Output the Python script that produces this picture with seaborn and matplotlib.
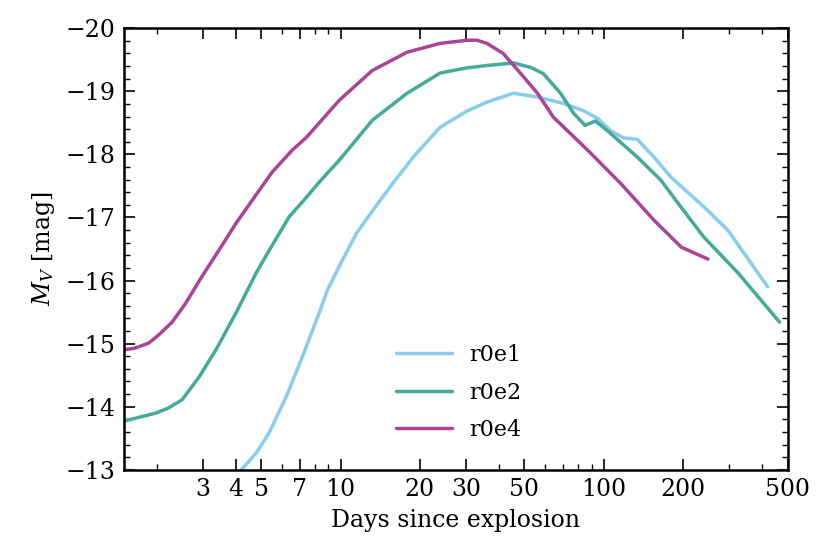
import matplotlib
matplotlib.use('Agg')
import matplotlib.pyplot as plt
import matplotlib.ticker as ticker
import numpy as np
import pandas as pd
import seaborn as sns

# light curves (days, M_V)
days_r0e1 = [3.8, 4.12, 4.37, 4.79, 5.36, 6.22, 7.16, 8.3, 8.92, 9.9, 11.5,
             13.2, 15.4, 18.9, 23.9, 30.0, 36.1, 45.4, 56, 70, 83, 95, 106,
             119, 134, 155, 180, 240, 296, 420]
mag_r0e1 = [-12.7, -12.97, -13.08, -13.27, -13.59, -14.16, -14.79, -15.49,
            -15.85, -16.23, -16.75, -17.1, -17.48, -17.96, -18.43, -18.68,
            -18.83, -18.97, -18.91, -18.81, -18.70, -18.57, -18.38, -18.26,
            -18.24, -17.96, -17.64, -17.17, -16.8, -15.9]

days_r0e2 = [1.5, 1.99, 2.22, 2.5, 2.9, 3.36, 4.01, 4.78, 5.36, 6.38, 7.42, 8.3,
             9.9, 13.2, 17.9, 23.9, 30.0, 36.1, 45.4, 52.7, 59, 68.5, 76.9, 85,
             93, 103, 134, 165, 197, 240, 324, 466]
mag_r0e2 = [-13.77, -13.90, -13.98, -14.11, -14.47, -14.90, -15.49, -16.12,
            -16.48, -17.01, -17.32, -17.56, -17.91, -18.54, -18.97, -19.29,
            -19.37, -19.41, -19.45, -19.38, -19.28, -18.97, -18.65, -18.46,
            -18.53, -18.38, -17.96, -17.59, -17.16, -16.69, -16.12, -15.34]

days_r0e4 = [1.5, 1.66, 1.87, 2.04, 2.29, 2.58, 2.97, 3.45, 4.01, 4.91, 5.5,
             6.56, 7.42, 9.9, 13.2, 17.9, 23.9, 30.3, 33, 36, 41.5, 48.2, 56,
             64.4, 86.8, 116, 155, 197, 249]
mag_r0e4 = [-14.90, -14.93, -15.01, -15.14, -15.34, -15.64, -16.06, -16.48,
            -16.91, -17.43, -17.72, -18.07, -18.27, -18.86, -19.33, -19.62,
            -19.76, -19.81, -19.81, -19.76, -19.6, -19.29, -18.97, -18.59,
            -18.07, -17.54, -16.96, -16.53, -16.34]

models = ['r0e1', 'r0e2', 'r0e4']
colors = ['#88CCEE', '#44AA99', '#AA4499']

df = pd.concat([
    pd.DataFrame({'days': days_r0e1, 'mag': mag_r0e1, 'model': 'r0e1'}),
    pd.DataFrame({'days': days_r0e2, 'mag': mag_r0e2, 'model': 'r0e2'}),
    pd.DataFrame({'days': days_r0e4, 'mag': mag_r0e4, 'model': 'r0e4'}),
], ignore_index=True)

sns.set_style('ticks', rc={'axes.edgecolor': 'black', 'text.color': 'black',
                           'axes.labelcolor': 'black', 'xtick.color': 'black',
                           'ytick.color': 'black'})
plt.rcParams['font.family'] = ['DejaVu Serif']
plt.rcParams['mathtext.fontset'] = 'dejavuserif'
plt.rcParams['font.size'] = 17

fig = plt.figure(figsize=(8.3, 5.54), dpi=100)
ax = fig.add_axes([0.149, 0.152, 0.800, 0.797])

sns.lineplot(data=df, x='days', y='mag', hue='model', hue_order=models,
             palette=colors, sort=False, estimator=None, lw=2.5, ax=ax)

ax.set_xscale('log')
ax.set_xlim(1.5, 500)
ax.set_ylim(-13, -20)

xmaj = [3, 4, 5, 7, 10, 20, 30, 50, 100, 200, 500]
xmin = [2, 6, 8, 9, 40, 60, 70, 80, 90, 300, 400]
ax.xaxis.set_major_locator(ticker.FixedLocator(xmaj))
ax.xaxis.set_minor_locator(ticker.FixedLocator(xmin))
ax.xaxis.set_major_formatter(ticker.FixedFormatter([str(v) for v in xmaj]))
ax.xaxis.set_minor_formatter(ticker.NullFormatter())
ax.yaxis.set_major_locator(ticker.MultipleLocator(1))
ax.yaxis.set_minor_locator(ticker.MultipleLocator(0.2))

ax.tick_params(which='both', direction='in', top=True, right=True, labelsize=17)
ax.tick_params(which='major', length=8, width=1.2, pad=6)
ax.tick_params(which='minor', length=4, width=1.0)
for s in ax.spines.values():
    s.set_linewidth(1.8)

ax.set_xlabel('Days since explosion', fontsize=17, labelpad=6)
ax.set_ylabel('$M_V$ [mag]', fontsize=17, labelpad=6)

ax.legend(loc='upper left', bbox_to_anchor=(0.38, 0.33), frameon=False,
          fontsize=16, handlelength=2.5, labelspacing=0.7, title=None)

fig.savefig('out.png', dpi=100)
